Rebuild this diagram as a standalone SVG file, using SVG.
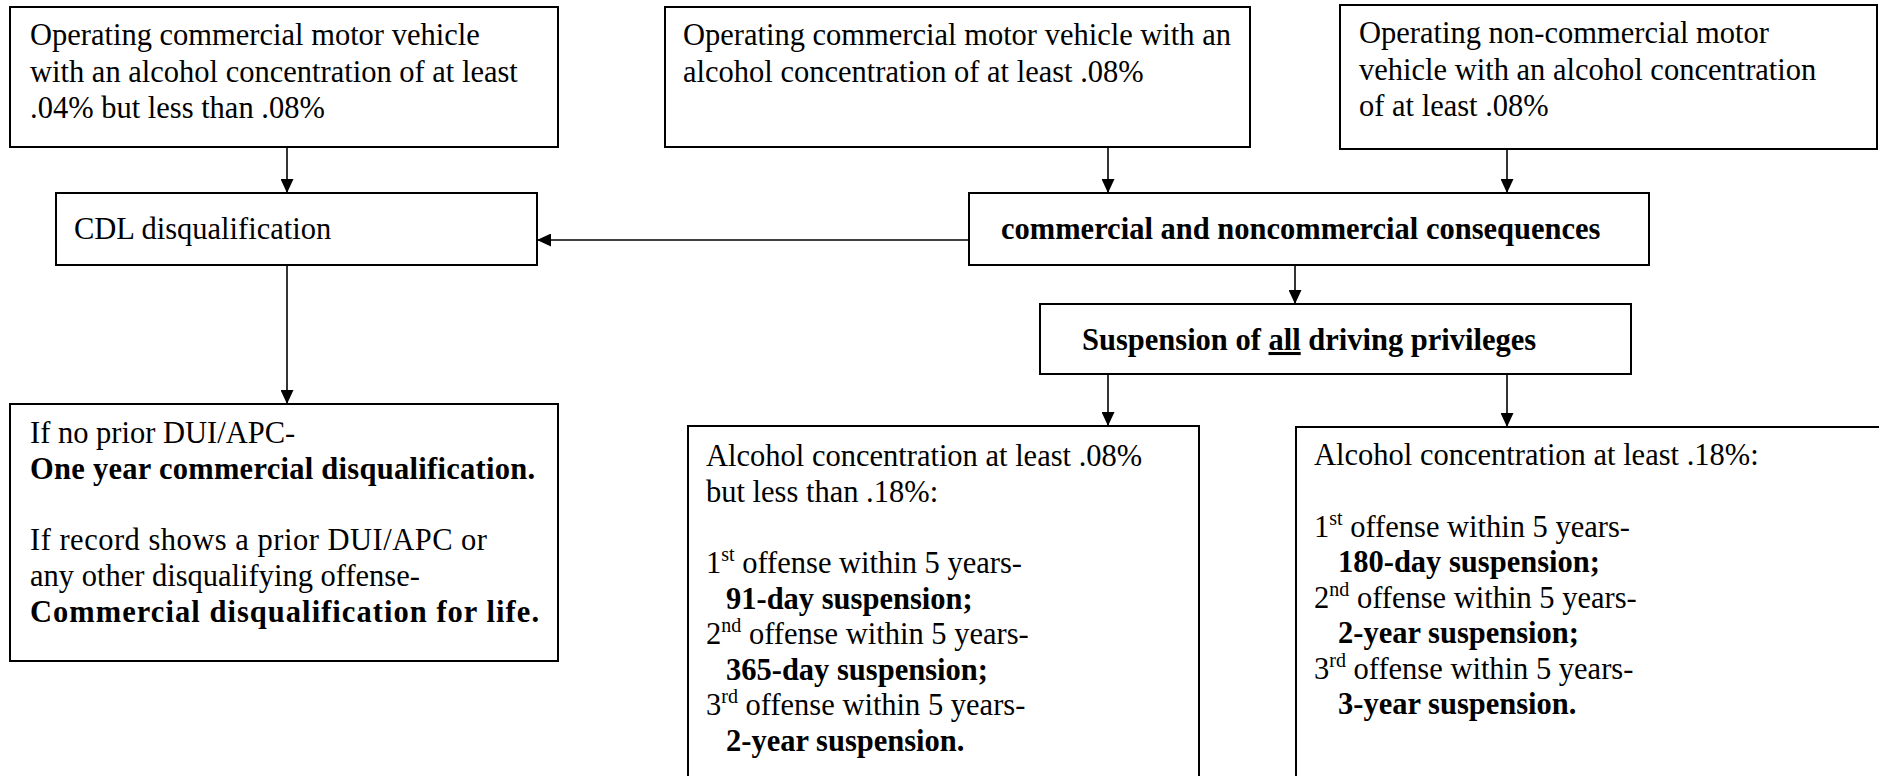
<svg xmlns="http://www.w3.org/2000/svg" width="1879" height="776" viewBox="0 0 1879 776">
<style>
.box{fill:#fff;stroke:#000;stroke-width:2}
.t{font-family:"Liberation Serif","Times New Roman",serif;font-size:30.5px;fill:#000}
.b{font-weight:bold}
.sup{font-size:20px}
.conn{stroke:#000;stroke-width:1.6;fill:none;marker-end:url(#ah)}
</style>
<defs>
<marker id="ah" viewBox="0 0 14 13" refX="14" refY="6.5" markerWidth="14" markerHeight="13" markerUnits="userSpaceOnUse" orient="auto">
<path d="M0,0 L14,6.5 L0,13 z" fill="#000"/>
</marker>
</defs>
<rect width="1879" height="776" fill="#fff"/>

<g id="connectors">
<line class="conn" x1="287" y1="148" x2="287" y2="193"/>
<line class="conn" x1="1108" y1="148" x2="1108" y2="193"/>
<line class="conn" x1="1507" y1="150" x2="1507" y2="193"/>
<line class="conn" x1="969" y1="240" x2="537" y2="240"/>
<line class="conn" x1="287" y1="265" x2="287" y2="404"/>
<line class="conn" x1="1295" y1="265" x2="1295" y2="304"/>
<line class="conn" x1="1108" y1="374" x2="1108" y2="426"/>
<line class="conn" x1="1507" y1="374" x2="1507" y2="427"/>
</g>

<g id="node-cmv-04">
<rect class="box" x="10" y="7" width="548" height="140"/>
<text class="t" x="30" y="45">Operating commercial motor vehicle</text>
<text class="t" x="30" y="81.5">with an alcohol concentration of at least</text>
<text class="t" x="30" y="118">.04% but less than .08%</text>
</g>

<g id="node-cmv-08">
<rect class="box" x="665" y="7" width="585" height="140"/>
<text class="t" x="683" y="45">Operating commercial motor vehicle with an</text>
<text class="t" x="683" y="81.5">alcohol concentration of at least .08%</text>
</g>

<g id="node-noncmv-08">
<rect class="box" x="1340" y="5" width="537" height="144"/>
<text class="t" x="1359" y="43">Operating non-commercial motor</text>
<text class="t" x="1359" y="79.5">vehicle with an alcohol concentration</text>
<text class="t" x="1359" y="116">of at least .08%</text>
</g>

<g id="node-cdl">
<rect class="box" x="56" y="193" width="481" height="72"/>
<text class="t" x="74" y="239">CDL disqualification</text>
</g>

<g id="node-consequences">
<rect class="box" x="969" y="193" width="680" height="72"/>
<text class="t b" x="1001" y="239">commercial and noncommercial consequences</text>
</g>

<g id="node-suspension">
<rect class="box" x="1040" y="304" width="591" height="70"/>
<text class="t b" x="1082" y="350">Suspension of <tspan text-decoration="underline">all</tspan> driving privileges</text>
</g>

<g id="node-cdl-result">
<rect class="box" x="10" y="404" width="548" height="257"/>
<text class="t" x="30" y="443">If no prior DUI/APC-</text>
<text class="t b" x="30" y="479" textLength="505" lengthAdjust="spacing">One year commercial disqualification.</text>
<text class="t" x="30" y="550" textLength="457" lengthAdjust="spacing">If record shows a prior DUI/APC or</text>
<text class="t" x="30" y="586">any other disqualifying offense-</text>
<text class="t b" x="30" y="622" textLength="509" lengthAdjust="spacing">Commercial disqualification for life.</text>
</g>

<g id="node-08-18">
<rect class="box" x="688" y="426" width="511" height="360"/>
<text class="t" x="706" y="466">Alcohol concentration at least .08%</text>
<text class="t" x="706" y="502">but less than .18%:</text>
<text class="t" x="706" y="573">1<tspan class="sup" dy="-12">st</tspan><tspan dy="12"> offense within 5 years-</tspan></text>
<text class="t b" x="726" y="608.5">91-day suspension;</text>
<text class="t" x="706" y="644">2<tspan class="sup" dy="-12">nd</tspan><tspan dy="12"> offense within 5 years-</tspan></text>
<text class="t b" x="726" y="679.5">365-day suspension;</text>
<text class="t" x="706" y="715">3<tspan class="sup" dy="-12">rd</tspan><tspan dy="12"> offense within 5 years-</tspan></text>
<text class="t b" x="726" y="750.5">2-year suspension.</text>
</g>

<g id="node-18">
<rect class="box" x="1296" y="427" width="600" height="360"/>
<text class="t" x="1314" y="465">Alcohol concentration at least .18%:</text>
<text class="t" x="1314" y="536.5">1<tspan class="sup" dy="-12">st</tspan><tspan dy="12"> offense within 5 years-</tspan></text>
<text class="t b" x="1338" y="572">180-day suspension;</text>
<text class="t" x="1314" y="607.5">2<tspan class="sup" dy="-12">nd</tspan><tspan dy="12"> offense within 5 years-</tspan></text>
<text class="t b" x="1338" y="643">2-year suspension;</text>
<text class="t" x="1314" y="678.5">3<tspan class="sup" dy="-12">rd</tspan><tspan dy="12"> offense within 5 years-</tspan></text>
<text class="t b" x="1338" y="714">3-year suspension.</text>
</g>
</svg>
